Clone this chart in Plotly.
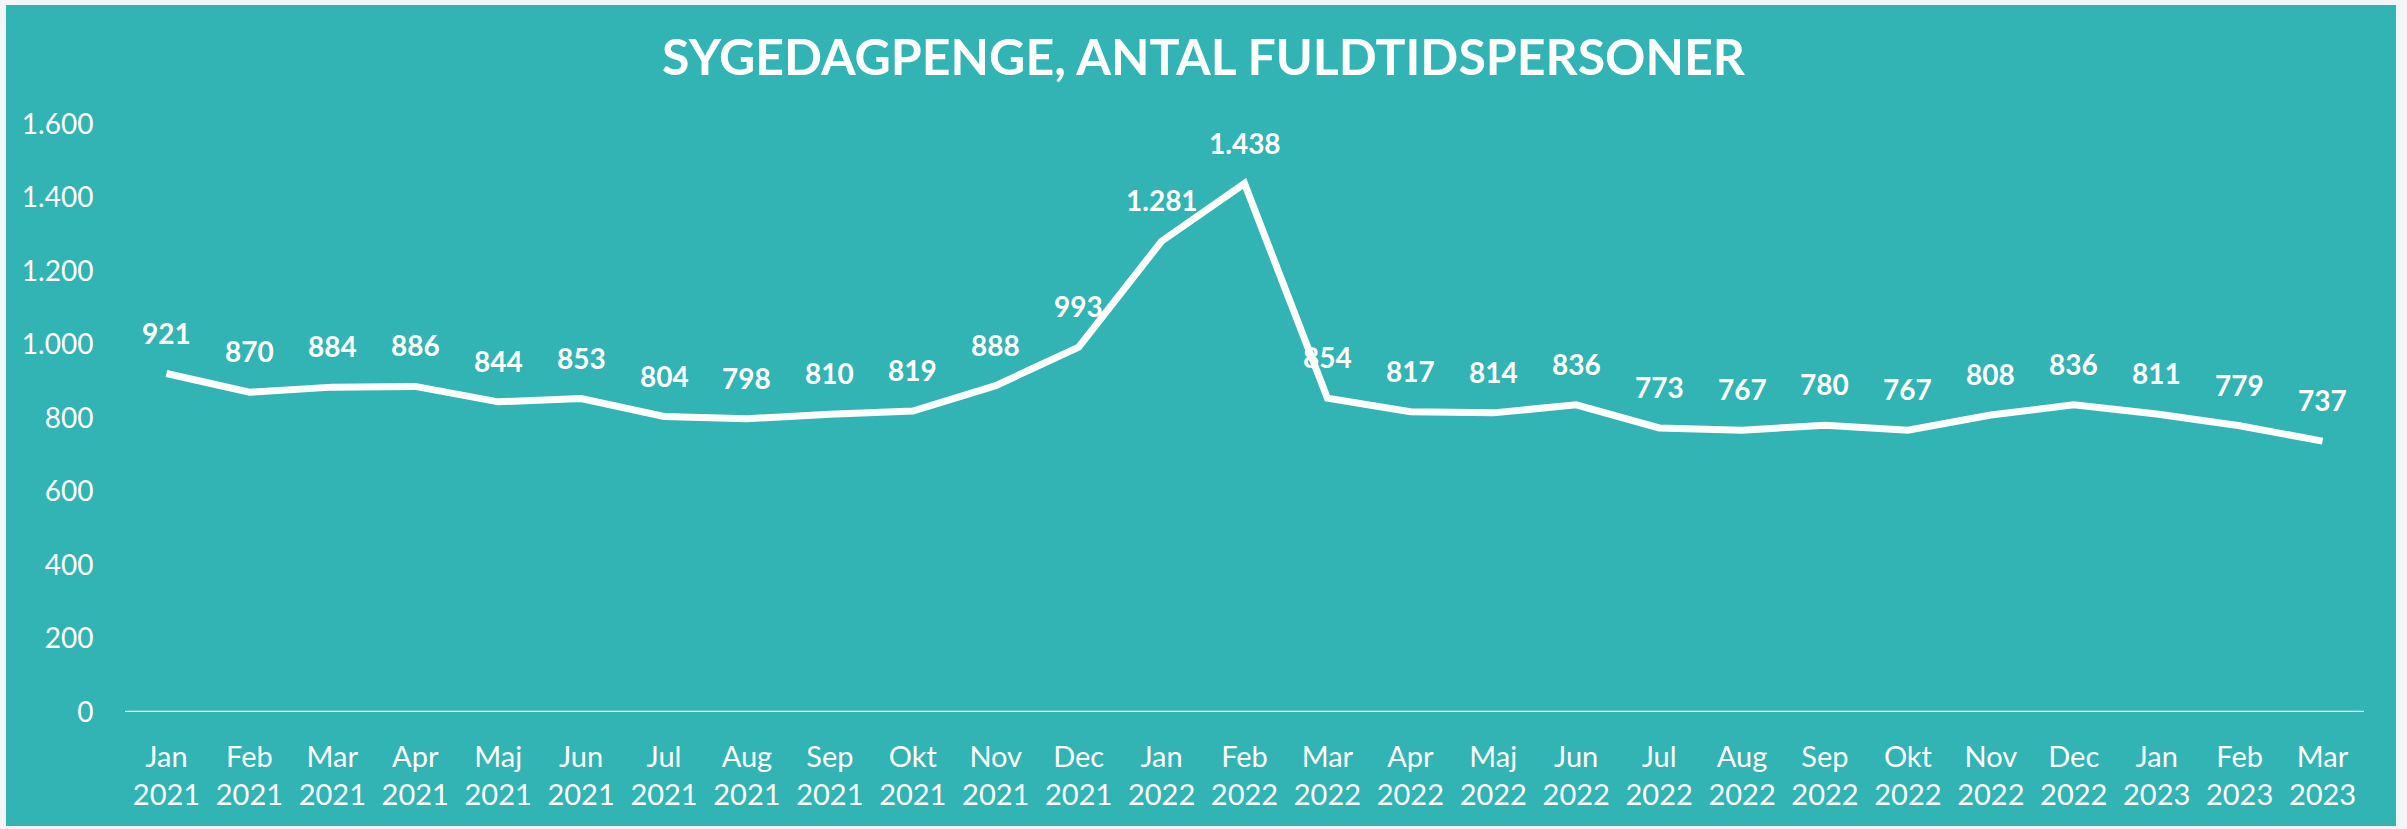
import plotly.graph_objects as go

months = ["Jan", "Feb", "Mar", "Apr", "Maj", "Jun", "Jul", "Aug", "Sep", "Okt", "Nov", "Dec",
          "Jan", "Feb", "Mar", "Apr", "Maj", "Jun", "Jul", "Aug", "Sep", "Okt", "Nov", "Dec",
          "Jan", "Feb", "Mar"]
years = ["2021"] * 12 + ["2022"] * 12 + ["2023"] * 3
values = [921, 870, 884, 886, 844, 853, 804, 798, 810, 819, 888, 993,
          1281, 1438, 854, 817, 814, 836, 773, 767, 780, 767, 808, 836,
          811, 779, 737]
y_ticks = [0, 200, 400, 600, 800, 1000, 1200, 1400, 1600]
title_text = "SYGEDAGPENGE, ANTAL FULDTIDSPERSONER"

TEAL = "#32b3b4"
OUTER = "#f2f6f9"
W, H = 2407, 829
ML, MR, MT, MB = 125, 43, 124, 117
PW, PH = W - ML - MR, H - MT - MB

categories = [f"{m}<br>{y}" for m, y in zip(months, years)]
xs = list(range(len(values)))


def px_to_paper_x(px):
    return (px - ML) / PW


def px_to_paper_y(py):
    return (H - MB - py) / PH


def fmt(v):
    return f"{v:,}".replace(",", ".")


fig = go.Figure()
fig.add_trace(go.Scatter(
    x=xs, y=values, mode="lines",
    line=dict(color="white", width=7),
    hoverinfo="skip", showlegend=False,
))

annotations = [
    dict(x=x, y=v, xref="x", yref="y", text=fmt(v), showarrow=False,
         yshift=41, font=dict(family="Lato", size=28, color="white", weight="bold"))
    for x, v in zip(xs, values)
]

fig.update_layout(
    width=W, height=H,
    margin=dict(l=ML, r=MR, t=MT, b=MB, pad=0),
    paper_bgcolor=OUTER,
    plot_bgcolor=TEAL,
    separators=",.",
    title=dict(text=title_text, x=0.5, xref="container", xanchor="center",
               y=1 - 57 / H, yref="container", yanchor="middle",
               font=dict(family="Lato", size=50, color="white", weight="bold")),
    xaxis=dict(
        range=[-0.5, len(values) - 0.5],
        tickmode="array", tickvals=xs, ticktext=categories,
        showgrid=False, zeroline=False, showline=False,
        ticks="outside", ticklen=19, tickcolor="rgba(0,0,0,0)",
        tickfont=dict(family="Lato", size=29, color="white"),
        fixedrange=True,
    ),
    yaxis=dict(
        range=[0, 1600], tickmode="array", tickvals=y_ticks,
        tickformat=",d",
        showgrid=False, zeroline=False, showline=False,
        ticks="outside", ticklen=25, tickcolor="rgba(0,0,0,0)",
        tickfont=dict(family="Lato", size=28, color="white"),
        fixedrange=True,
    ),
    annotations=annotations,
    shapes=[
        dict(type="rect", xref="paper", yref="paper",
             x0=px_to_paper_x(6), x1=px_to_paper_x(2396),
             y0=px_to_paper_y(826), y1=px_to_paper_y(5),
             fillcolor=TEAL, line=dict(width=0), layer="below"),
        dict(type="line", xref="paper", yref="y", x0=0, x1=1, y0=0, y1=0,
             line=dict(color="white", width=2.5), layer="above"),
    ],
)

fig.write_html("out.html", config={"displayModeBar": False},
               post_script="document.body.style.margin='0';document.body.style.overflow='hidden';")
